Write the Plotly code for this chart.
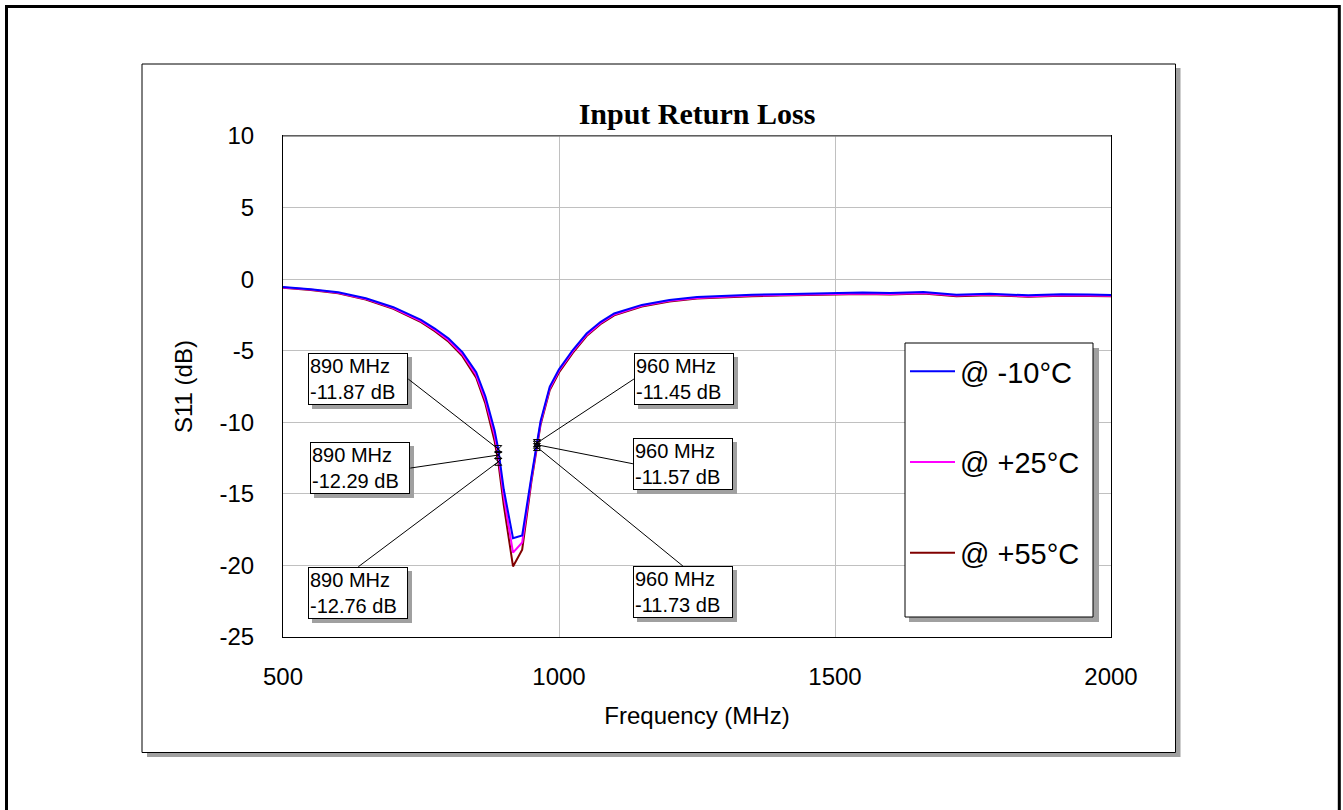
import plotly.graph_objects as go

# Frequency sweep (MHz) and S11 (dB) at three temperatures
freq_mhz = [500, 550, 600, 650, 700, 750, 775, 800, 825, 850, 866.7, 883.3, 890, 900,
            916.7, 933.3, 950, 960, 966.7, 983.3, 1000, 1025, 1050, 1075, 1100, 1150,
            1200, 1250, 1300, 1350, 1400, 1450, 1500, 1550, 1600, 1660, 1720, 1780,
            1850, 1910, 1960, 2000]

s11_m10 = [-0.55, -0.70, -0.92, -1.33, -1.96, -2.85, -3.45, -4.15, -5.10, -6.50, -8.20,
           -10.55, -11.87, -14.70, -18.10, -17.90, -13.80, -11.45, -9.90, -7.50, -6.30,
           -4.95, -3.80, -3.00, -2.40, -1.80, -1.45, -1.25, -1.15, -1.09, -1.05, -1.01,
           -0.98, -0.93, -0.97, -0.90, -1.09, -1.02, -1.13, -1.06, -1.08, -1.10]

s11_p25 = [-0.58, -0.73, -0.96, -1.38, -2.02, -2.93, -3.55, -4.27, -5.25, -6.70, -8.45,
           -10.90, -12.29, -15.20, -19.10, -18.40, -13.95, -11.57, -10.02, -7.62, -6.40,
           -5.05, -3.90, -3.08, -2.47, -1.86, -1.51, -1.31, -1.21, -1.15, -1.11, -1.07,
           -1.05, -1.00, -1.03, -0.96, -1.15, -1.08, -1.19, -1.12, -1.14, -1.16]

s11_p55 = [-0.60, -0.76, -0.99, -1.42, -2.07, -3.00, -3.63, -4.37, -5.38, -6.88, -8.70,
           -11.30, -12.76, -15.80, -20.07, -18.90, -14.15, -11.73, -10.15, -7.75, -6.52,
           -5.15, -3.98, -3.15, -2.53, -1.91, -1.56, -1.36, -1.26, -1.19, -1.15, -1.11,
           -1.09, -1.04, -1.07, -1.00, -1.19, -1.12, -1.23, -1.16, -1.18, -1.20]

series_names = ["@ -10°C", "@ +25°C", "@ +55°C"]
series_colors = ["#0000FF", "#FF00FF", "#800000"]

# Axis ticks (labels written with a plain hyphen)
x_ticks = [500, 1000, 1500, 2000]
y_ticks = [10, 5, 0, -5, -10, -15, -20, -25]
y_tick_text = ["10", "5", "0", "-5", "-10", "-15", "-20", "-25"]

# Marker readouts
marker_freq = [890, 890, 890, 960, 960, 960]
marker_db = [-11.87, -12.29, -12.76, -11.45, -11.57, -11.73]

# Plot area in page pixels
W_PAGE, H_PAGE = 1343, 810
L, R, T, B = 283, 1111, 136, 637
PW, PH = R - L, B - T


def px_x(px):
    return (px - L) / PW


def px_y(py):
    return (B - py) / PH


FONT = "Liberation Sans, Arial, sans-serif"

fig = go.Figure()

# Draw order: warmest first so the -10°C curve sits on top
for vals, name, color, rank in [(s11_p55, series_names[2], series_colors[2], 3),
                                (s11_p25, series_names[1], series_colors[1], 2),
                                (s11_m10, series_names[0], series_colors[0], 1)]:
    fig.add_trace(go.Scatter(
        x=freq_mhz, y=vals, mode="lines", name=name,
        line=dict(color=color, width=2),
        legendgroup=name, legendrank=rank,
    ))

fig.add_trace(go.Scatter(
    x=marker_freq, y=marker_db, mode="markers", showlegend=False,
    marker=dict(symbol="hourglass-open", size=7, color="black", line=dict(width=1, color="black")),
    hoverinfo="skip",
))

# Label boxes: (x anchor, y anchor, ax, ay) in pixels from the marker
label_layout = [
    ("right", "middle", -90, -70),
    ("right", "middle", -88, 13),
    ("center", "top", -140, 105),
    ("left", "middle", 97, -64),
    ("left", "middle", 96, 19),
    ("center", "top", 146, 119),
]

shadow = "#A0A0A0"
box_common = dict(xref="x", yref="y", showarrow=True, align="left",
                  width=96, borderpad=1, borderwidth=1, arrowhead=0)
annotations = []
# drop shadows behind the label boxes
for (f, v), (xa, ya, ax, ay) in zip(zip(marker_freq, marker_db), label_layout):
    annotations.append(dict(box_common, x=f, y=v, ax=ax, ay=ay, xanchor=xa, yanchor=ya,
                            text="&nbsp;<br>&nbsp;",
                            bgcolor=shadow, bordercolor=shadow,
                            font=dict(family=FONT, size=20, color=shadow),
                            arrowcolor="rgba(0,0,0,0)", xshift=4, yshift=-4))
# label boxes with leader lines
for (f, v), (xa, ya, ax, ay) in zip(zip(marker_freq, marker_db), label_layout):
    annotations.append(dict(box_common, x=f, y=v, ax=ax, ay=ay, xanchor=xa, yanchor=ya,
                            text=f"{f} MHz<br>{v:.2f} dB",
                            arrowwidth=1, arrowcolor="black",
                            bgcolor="white", bordercolor="black",
                            font=dict(family=FONT, size=20, color="black")))


def rect(x0, y0, x1, y1, **kw):
    return dict(type="rect", xref="paper", yref="paper",
                x0=px_x(x0), x1=px_x(x1), y0=px_y(y1), y1=px_y(y0), **kw)


shapes = [
    # outer frame
    rect(6.5, 6.5, 1339.3, 815, line=dict(color="black", width=3), layer="below"),
    # chart panel with drop shadow
    rect(147, 68, 1180.5, 757, fillcolor=shadow, line=dict(width=0), layer="below"),
    rect(142, 64, 1175.5, 752.5, fillcolor="white", line=dict(color="black", width=1), layer="below"),
    # legend box with drop shadow
    rect(909, 348, 1099, 622, fillcolor=shadow, line=dict(width=0), layer="above"),
    rect(905, 343, 1093, 617, fillcolor="white", line=dict(color="black", width=1), layer="above"),
    # plot area top edge
    dict(type="line", xref="paper", yref="paper", x0=0, x1=1, y0=1, y1=1,
         line=dict(color="#808080", width=1.5), layer="above"),
]

fig.update_layout(
    width=W_PAGE, height=H_PAGE,
    margin=dict(l=L, r=W_PAGE - R, t=T, b=H_PAGE - B, pad=0),
    paper_bgcolor="white", plot_bgcolor="white",
    font=dict(family=FONT, color="black", size=24),
    title=dict(text="<b>Input Return Loss</b>", x=0.5, xref="paper", xanchor="center",
               y=1 - 113 / H_PAGE, yref="container", yanchor="middle",
               font=dict(family="Liberation Serif, Times New Roman, serif", size=30, color="black")),
    xaxis=dict(range=[500, 2000], tickvals=x_ticks, ticktext=[str(v) for v in x_ticks],
               showgrid=True, gridcolor="#C0C0C0", gridwidth=1,
               showline=True, linecolor="black", linewidth=1, mirror=True,
               ticks="", ticklabelstandoff=18, zeroline=False,
               tickfont=dict(size=24),
               title=dict(text="Frequency (MHz)", standoff=18, font=dict(size=24))),
    yaxis=dict(range=[-25, 10], tickvals=y_ticks, ticktext=y_tick_text,
               showgrid=True, gridcolor="#C0C0C0", gridwidth=1,
               showline=True, linecolor="black", linewidth=1, mirror=True,
               ticks="", ticklabelstandoff=23, zeroline=False,
               tickfont=dict(size=24),
               title=dict(text="S11 (dB)", standoff=20, font=dict(size=24))),
    legend=dict(x=px_x(905), y=px_y(346), xanchor="left", yanchor="top",
                xref="paper", yref="paper",
                bgcolor="rgba(0,0,0,0)", borderwidth=0,
                font=dict(family=FONT, size=29, color="black"),
                traceorder="grouped", tracegroupgap=50, itemwidth=45),
    shapes=shapes,
    annotations=annotations,
    showlegend=True,
)

fig.write_html("out.html")
